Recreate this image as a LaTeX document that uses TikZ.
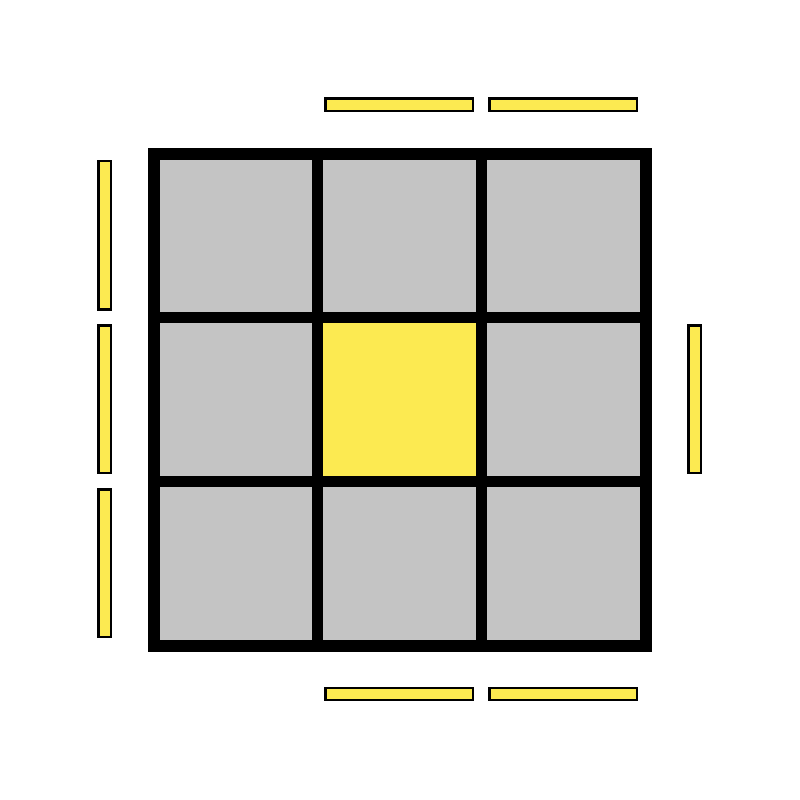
\documentclass[tikz,border=0pt]{standalone}
\definecolor{cellgray}{HTML}{C4C4C4}
\definecolor{stickyellow}{HTML}{FCEA51}
\begin{document}
\begin{tikzpicture}[x=0.01cm,y=-0.01cm,
  cell/.style={fill=cellgray},
  topcell/.style={fill=stickyellow},
  sidesticker/.style={draw=black,fill=stickyellow,line width=0.75pt}]
\useasboundingbox (0,0) rectangle (800,800);
\fill[white] (0,0) rectangle (800,800);
% frame
\fill[black] (148,148) rectangle (652,652);
% cells
\foreach \xa/\xb in {160/312,323/476,487/640}{
  \foreach \ya/\yb in {160/312,323/476,487/640}{
    \fill[cell] (\xa,\ya) rectangle (\xb,\yb);
  }
}
\fill[topcell] (323,323) rectangle (476,476);
% top stickers
\draw[sidesticker] (325.5,98.5) rectangle (473,111);
\draw[sidesticker] (489.5,98.5) rectangle (637,111);
% bottom stickers
\draw[sidesticker] (325.5,688) rectangle (473,700);
\draw[sidesticker] (489.5,688) rectangle (637,700);
% left stickers
\draw[sidesticker] (98.5,161) rectangle (111,309.5);
\draw[sidesticker] (98.5,325.5) rectangle (111,473);
\draw[sidesticker] (98.5,489.5) rectangle (111,637);
% right sticker
\draw[sidesticker] (688.5,325.5) rectangle (701,473);
\end{tikzpicture}
\end{document}
